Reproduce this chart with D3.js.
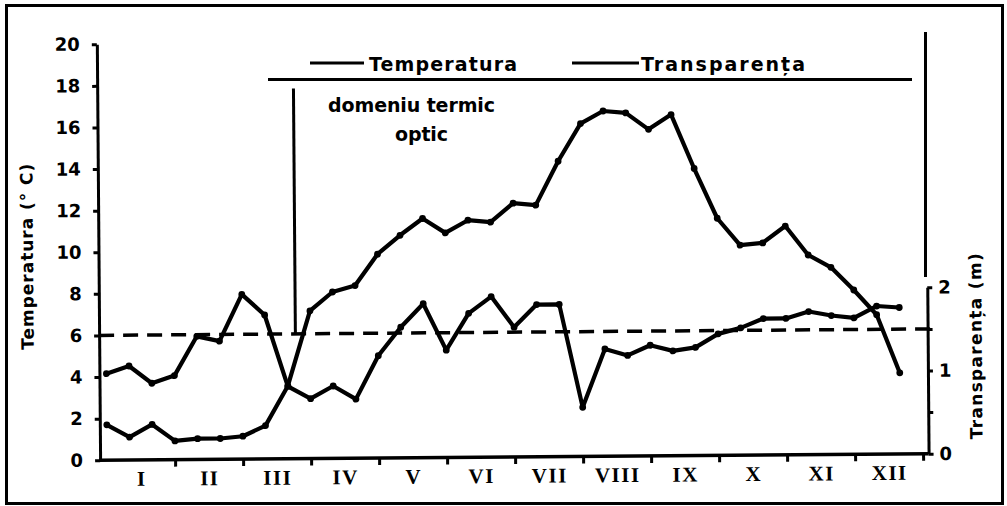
<!DOCTYPE html>
<html>
<head>
<meta charset="utf-8">
<script src="https://cdn.jsdelivr.net/npm/d3@7"></script>
<style>
    html, body { margin: 0; padding: 0; background: #fff; }
    svg text { font-family: "DejaVu Sans", sans-serif; font-weight: bold; fill: #000; }
    .months text { font-family: "Liberation Serif", serif; letter-spacing: 1.5px; }
</style>
</head>
<body>
<div id="chart"></div>
<script>
// -----------------------------------
// --------------- DATA --------------
// three readings per month (one per decade), January..December
const months = ['I', 'II', 'III', 'IV', 'V', 'VI', 'VII', 'VIII', 'IX', 'X', 'XI', 'XII'];

// temperature, °C
const temperature = [
    1.7, 1.1, 1.7, 0.9, 1.0, 1.0, 1.1, 1.6, 3.5,
    7.1, 8.0, 8.3, 9.8, 10.7, 11.5, 10.8, 11.4, 11.3,
    12.2, 12.1, 14.2, 16.0, 16.6, 16.5, 15.7, 16.4, 13.8,
    11.4, 10.1, 10.2, 11.0, 9.6, 9.0, 7.9, 6.7, 3.9
];

// transparency (Secchi), m
const transparency = [
    1.04, 1.13, 0.92, 1.01, 1.48, 1.42, 1.98, 1.73, 0.87,
    0.72, 0.87, 0.71, 1.23, 1.57, 1.85, 1.29, 1.73, 1.93,
    1.56, 1.83, 1.83, 0.59, 1.29, 1.21, 1.33, 1.26, 1.30,
    1.46, 1.53, 1.64, 1.64, 1.72, 1.67, 1.64, 1.78, 1.76
];

const tempTicks = d3.range(0, 21, 2);
const transTicks = [0, 0.5, 1, 1.5, 2];
const transTickLabels = ['0', '', '1', '', '2'];

const thresholdTemp = 6;          // dashed line (6 °C / 1.5 m)
const markerDecade = 8.35;        // start of "domeniu termic optic"
const markerTop = 17.8;
// -----------------------------------
// -----------------------------------

const width = 1007, height = 506;

const svg = d3.select('#chart').append('svg')
    .attr('width', width)
    .attr('height', height);

// outer frame
svg.append('rect')
    .attr('x', 6.5).attr('y', 5.5)
    .attr('width', 996).attr('height', 498)
    .attr('fill', 'none')
    .attr('stroke', '#000')
    .attr('stroke-width', 3);

// scales
const x = d3.scaleLinear().domain([0, 36]).range([105.5, 921.5]);
const y = d3.scaleLinear().domain([0, 20]).range([457, 41]);
// 2 m on the right axis sits at 8 °C on the left one
const yR = d3.scaleLinear().domain([0, 2]).range([y(0), y(8)]);

const axisX = 98.5, rightX = 927;

// the scanned plot is slightly tilted
const plot = svg.append('g').attr('transform', 'rotate(-0.45, 510, 255)');

// left axis
plot.append('g')
    .attr('transform', `translate(${axisX},0)`)
    .call(d3.axisLeft(y).tickValues(tempTicks).tickSize(5).tickSizeOuter(0).tickPadding(12))
    .call(g => g.attr('font-size', 18).attr('font-family', null))
    .call(g => g.selectAll('path, line').attr('stroke-width', 3));

// baseline
plot.append('line')
    .attr('x1', axisX - 1).attr('x2', rightX)
    .attr('y1', y(0)).attr('y2', y(0))
    .attr('stroke', '#000').attr('stroke-width', 3.5);

// month boundaries
plot.append('g')
    .attr('transform', `translate(0,${y(0)})`)
    .call(d3.axisBottom(x).tickValues(d3.range(3, 37, 3)).tickFormat('').tickSize(7))
    .call(g => g.select('.domain').remove())
    .call(g => g.selectAll('line').attr('stroke-width', 3));

// month labels
plot.append('g')
    .attr('class', 'months')
    .attr('transform', `translate(0,${y(0)})`)
    .call(d3.axisBottom(x).tickValues(months.map((m, i) => i * 3 + 1.5))
        .tickFormat((d, i) => months[i]).tickSize(0).tickPadding(11))
    .call(g => g.attr('font-size', 21).attr('font-family', null))
    .call(g => g.select('.domain').remove());

// right axis
plot.append('g')
    .attr('transform', `translate(${rightX},0)`)
    .call(d3.axisRight(yR).tickValues(transTicks).tickFormat((d, i) => transTickLabels[i])
        .tickSize(5).tickSizeOuter(0).tickPadding(6))
    .call(g => g.attr('font-size', 18).attr('font-family', null))
    .call(g => g.selectAll('path, line').attr('stroke-width', 3));

// axis titles
plot.append('text')
    .attr('transform', 'translate(33,253) rotate(-90)')
    .attr('text-anchor', 'middle')
    .attr('font-size', 17)
    .attr('textLength', 186)
    .attr('lengthAdjust', 'spacing')
    .text('Temperatura (° C)');

plot.append('text')
    .attr('transform', 'translate(981,350) rotate(-90)')
    .attr('text-anchor', 'middle')
    .attr('font-size', 17)
    .attr('textLength', 186)
    .attr('lengthAdjust', 'spacing')
    .text('Transparența  (m)');

// threshold dashed line
plot.append('line')
    .attr('x1', axisX).attr('x2', rightX + 6)
    .attr('y1', y(thresholdTemp)).attr('y2', y(thresholdTemp))
    .attr('stroke', '#000').attr('stroke-width', 3.5)
    .attr('stroke-dasharray', '15 9');

// "domeniu termic optic" marker
plot.append('line')
    .attr('x1', x(markerDecade)).attr('x2', x(markerDecade))
    .attr('y1', y(markerTop)).attr('y2', y(thresholdTemp))
    .attr('stroke', '#000').attr('stroke-width', 3);

// series
const series = [
    { values: temperature, scale: y },
    { values: transparency, scale: yR }
];

series.forEach(s => {
    const line = d3.line()
        .x((d, i) => x(i))
        .y(d => s.scale(d));

    plot.append('path')
        .datum(s.values)
        .attr('d', line)
        .attr('fill', 'none')
        .attr('stroke', '#000')
        .attr('stroke-width', 4.2)
        .attr('stroke-linejoin', 'round');

    plot.append('g').selectAll('circle')
        .data(s.values)
        .enter().append('circle')
        .attr('cx', (d, i) => x(i))
        .attr('cy', d => s.scale(d))
        .attr('r', 3.4)
        .attr('fill', '#000');
});

// legend
svg.append('line')
    .attr('x1', 268).attr('x2', 912)
    .attr('y1', 79.5).attr('y2', 79.5)
    .attr('stroke', '#000').attr('stroke-width', 3);

const legend = [
    { label: 'Temperatura', x1: 310, x2: 364, tx: 369, len: 148 },
    { label: 'Transparența', x1: 572, x2: 639, tx: 641, len: 164 }
];

legend.forEach(l => {
    svg.append('line')
        .attr('x1', l.x1).attr('x2', l.x2)
        .attr('y1', 63).attr('y2', 63)
        .attr('stroke', '#000').attr('stroke-width', 3);
    svg.append('text')
        .attr('x', l.tx).attr('y', 71)
        .attr('font-size', 19)
        .attr('textLength', l.len)
        .attr('lengthAdjust', 'spacing')
        .text(l.label);
});

// right vertical rule above the transparency axis
svg.append('line')
    .attr('x1', 925.5).attr('x2', 925.5)
    .attr('y1', 32).attr('y2', 277)
    .attr('stroke', '#000').attr('stroke-width', 3);

// annotation
svg.append('text')
    .attr('x', 328).attr('y', 112)
    .attr('font-size', 19)
    .attr('textLength', 167)
    .attr('lengthAdjust', 'spacing')
    .text('domeniu  termic');

svg.append('text')
    .attr('x', 395).attr('y', 141)
    .attr('font-size', 19)
    .attr('textLength', 53)
    .attr('lengthAdjust', 'spacing')
    .text('optic');
</script>
</body>
</html>
